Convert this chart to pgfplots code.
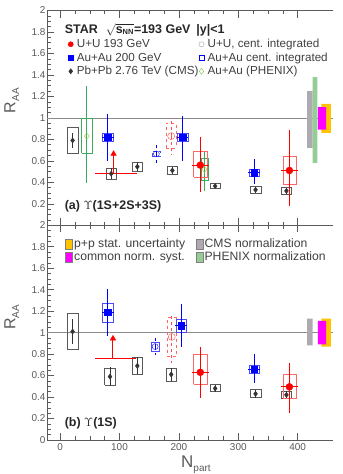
\documentclass[border=0pt]{standalone}
\usepackage{pgfplots}
\pgfplotsset{compat=1.18}
\usepackage{fontspec}
\setmainfont{Liberation Sans}
\definecolor{uured}{RGB}{255,0,0}
\definecolor{aublue}{RGB}{0,0,255}
\definecolor{phgreen}{RGB}{60,170,90}
\definecolor{phnorm}{RGB}{150,205,150}
\definecolor{cmsnorm}{RGB}{175,170,178}
\definecolor{ppor}{RGB}{255,195,0}
\definecolor{magen}{RGB}{255,0,255}
\definecolor{axgray}{RGB}{90,90,90}
\pgfplotsset{
  myax/.style={
    scale only axis, width=286bp, height=214.5bp,
    xmin=-22, xmax=460, ymin=0, ymax=2,
    axis x line*=box, axis y line*=left,
    axis line style={axgray, line width=0.6pt},
    every tick/.style={axgray, line width=0.5pt},
    major tick length=7bp, minor tick length=3.5bp,
    xtick={0,100,200,300,400}, minor x tick num=3,
    ytick={0,0.2,0.4,0.6,0.8,1,1.2,1.4,1.6,1.8,2}, minor y tick num=3,
    tick label style={font=\fontsize{10}{12}\selectfont, axgray},
    yticklabel style={xshift=2bp},
    /pgf/number format/assume math mode=true,
    clip=false,
  },
  cmsbox/.style={draw=black!65, line width=0.6pt, forget plot},
  redbox/.style={draw=uured!60, line width=0.6pt, forget plot},
  bluebox/.style={draw=aublue!70, line width=0.6pt, forget plot},
  greenbox/.style={draw=phgreen, line width=0.7pt, forget plot},
  ebar/.style={forget plot, only marks, error bars/y dir=both, error bars/y explicit, error bars/x dir=both, error bars/x explicit, error bars/error mark=none},
}
\begin{document}
\begin{tikzpicture}
\path[use as bounding box] (-47bp,-34bp) rectangle (295bp,439.5bp);
% ================= TOP PANEL =================
\begin{axis}[myax, at={(0,214.5bp)}, anchor=south west,
  xticklabels={}, yticklabels={,0.2,0.4,0.6,0.8,1,1.2,1.4,1.6,1.8,2},
  ylabel={R\raisebox{-0.45ex}{\fontsize{10}{11}\selectfont AA}},
  ylabel style={font=\fontsize{16}{18}\selectfont, axgray, at={(axis description cs:-0.085,0.58)}},
  legend columns=2,
  legend image code/.code={\draw[#1] plot coordinates {(4bp,0bp)};},
  legend style={at={(axis description cs:0.073,0.875)}, anchor=north west, draw=none, fill=none,
    font=\fontsize{11.7}{13}\selectfont, text=black!75, row sep=0pt, inner sep=0pt,
    nodes={inner sep=0.5pt, text height=9.5bp, text depth=3bp},
    /tikz/every even column/.append style={column sep=0bp},
    /tikz/every odd column/.append style={column sep=3bp}},
  legend cell align=left]
\addplot[axgray!70, line width=0.7pt, forget plot] coordinates {(-22,1) (460,1)};
% normalization bars
\addplot[fill=cmsnorm, draw=none, forget plot] coordinates {(416,0.72) (425,0.72) (425,1.25) (416,1.25) (416,0.72)};
\addplot[fill=phnorm, draw=none, forget plot] coordinates {(425,0.58) (433,0.58) (433,1.38) (425,1.38) (425,0.58)};
\addplot[fill=ppor, draw=none, forget plot] coordinates {(440,0.86) (456,0.86) (456,1.13) (440,1.13) (440,0.86)};
\addplot[fill=magen, draw=none, forget plot] coordinates {(434,0.89) (448,0.89) (448,1.10) (434,1.10) (434,0.89)};
% legend images
\addlegendimage{only marks, mark=*, mark size=2.6pt, uured}
\addlegendentry{U+U 193 GeV}
\addlegendimage{only marks, mark=o, mark size=2.6pt, black!35}
\addlegendentry{U+U, cent. integrated}
\addlegendimage{only marks, mark=square*, mark size=2.6pt, aublue}
\addlegendentry{Au+Au 200 GeV}
\addlegendimage{only marks, mark=square, mark size=2.6pt, aublue}
\addlegendentry{Au+Au cent. integrated}
\addlegendimage{only marks, mark=diamond*, mark size=2.6pt, black!80}
\addlegendentry{Pb+Pb 2.76 TeV (CMS)}
\addlegendimage{only marks, mark=diamond, mark size=3pt, phgreen!70!yellow}
\addlegendentry{Au+Au (PHENIX)}
% CMS boxes
\addplot[cmsbox] coordinates {(12,0.67) (30,0.67) (30,0.91) (12,0.91) (12,0.67)};
\addplot[cmsbox] coordinates {(77,0.43) (95,0.43) (95,0.53) (77,0.53) (77,0.43)};
\addplot[cmsbox] coordinates {(121,0.50) (139,0.50) (139,0.59) (121,0.59) (121,0.50)};
\addplot[cmsbox] coordinates {(180,0.47) (198,0.47) (198,0.55) (180,0.55) (180,0.47)};
\addplot[cmsbox] coordinates {(252,0.34) (270,0.34) (270,0.39) (252,0.39) (252,0.34)};
\addplot[cmsbox] coordinates {(320,0.30) (338,0.30) (338,0.36) (320,0.36) (320,0.30)};
\addplot[cmsbox] coordinates {(372,0.29) (390,0.29) (390,0.35) (372,0.35) (372,0.29)};
\addplot[ebar, black!80, mark=diamond*, mark size=2.6pt, error bars/error bar style={black!80, line width=0.6pt}] coordinates {
 (21,0.79) +- (0,0.07) (86,0.48) +- (0,0.05) (130,0.545) +- (0,0.04) (189,0.51) +- (0,0.03)
 (261,0.365) +- (0,0.02) (329,0.33) +- (0,0.03) (381,0.32) +- (0,0.03)};
% PHENIX
\addplot[greenbox] coordinates {(36,0.67) (54,0.67) (54,1.00) (36,1.00) (36,0.67)};
\addplot[greenbox] coordinates {(237,0.42) (249,0.42) (249,0.62) (237,0.62) (237,0.42)};
\addplot[ebar, phgreen, mark=diamond, mark size=3.2pt, mark options={fill=white, draw=phgreen!60!yellow}, error bars/error bar style={phgreen, line width=1pt}] coordinates {
 (45,0.83) += (0,0.47) -= (0,0.44) (243,0.52) += (0,0.17) -= (0,0.20)};
% cent. integrated
\addplot[bluebox, dashed] coordinates {(155,0.64) (169,0.64) (169,0.69) (155,0.69) (155,0.64)};
\addplot[ebar, aublue, mark=o, mark size=3pt, mark options={solid}, error bars/error bar style={aublue, line width=0.8pt, dashed}] coordinates {
 (162,0.665) += (0,0.10) -= (0,0.085)};
\addplot[redbox, dashed] coordinates {(179,0.72) (195,0.72) (195,0.95) (179,0.95) (179,0.72)};
\addplot[ebar, uured!70, mark=o, mark size=3.5pt, mark options={solid}, error bars/error bar style={uured!70, line width=0.8pt, dashed}] coordinates {
 (187,0.83) += (0,0.17) -= (0,0.18)};
% Au+Au STAR
\addplot[bluebox] coordinates {(71,0.78) (89,0.78) (89,0.86) (71,0.86) (71,0.78)};
\addplot[bluebox] coordinates {(197,0.78) (215,0.78) (215,0.86) (197,0.86) (197,0.78)};
\addplot[bluebox] coordinates {(318,0.46) (336,0.46) (336,0.52) (318,0.52) (318,0.46)};
\addplot[ebar, aublue, mark=square*, mark size=3.3pt, error bars/error bar style={aublue, line width=1pt}] coordinates {
 (80,0.82) +- (10,0.22) (206,0.82) += (10,0.20) -= (10,0.22) (327,0.49) += (10,0.13) -= (10,0.105)};
% U+U STAR
\addplot[uured, line width=1pt, forget plot] coordinates {(59,0.48) (130,0.48)};
\addplot[uured, line width=1pt, forget plot] coordinates {(90,0.48) (90,0.65)};
\addplot[only marks, uured, mark=triangle*, mark size=3.2pt, forget plot] coordinates {(90,0.665)};
\addplot[redbox] coordinates {(225,0.45) (247,0.45) (247,0.69) (225,0.69) (225,0.45)};
\addplot[redbox] coordinates {(375,0.38) (397,0.38) (397,0.64) (375,0.64) (375,0.38)};
\addplot[ebar, uured, mark=*, mark size=3.5pt, error bars/error bar style={uured, line width=1pt}] coordinates {
 (236,0.56) += (14,0.26) -= (14,0.25) (386,0.51) += (14,0.38) -= (14,0.33)};
% texts
\node[anchor=west, font=\bfseries\fontsize{12.5}{14}\selectfont, text=black!85] at (axis cs:2,1.82)
 {STAR\hspace{8pt}$\sqrt{\mbox{s$_{\mbox{\fontsize{7.5}{8}\selectfont NN}}$}}$=193 GeV\hspace{6pt}|y|<1};
\node[anchor=west, font=\bfseries\fontsize{12.5}{14}\selectfont, text=black!85] at (axis cs:2,0.18)
 {(a) $\Upsilon$(1S+2S+3S)};
\end{axis}
% ================= BOTTOM PANEL =================
\begin{axis}[myax, at={(0,0)}, anchor=south west,
  ylabel={R\raisebox{-0.45ex}{\fontsize{10}{11}\selectfont AA}},
  ylabel style={font=\fontsize{16}{18}\selectfont, axgray, at={(axis description cs:-0.085,0.57)}},
  xlabel={N\raisebox{-0.45ex}{\fontsize{10}{11}\selectfont part}},
  xlabel style={font=\fontsize{17}{19}\selectfont, axgray, anchor=north, inner sep=0pt, at={(axis description cs:0.52,-0.072)}},
  legend columns=2,
  legend style={at={(axis description cs:0.063,0.945)}, anchor=north west, draw=none, fill=none,
    font=\fontsize{12.2}{13}\selectfont, text=black!75, row sep=0pt, inner sep=0pt,
    nodes={inner sep=1.5pt},
    /tikz/every even column/.append style={column sep=9bp},
    /tikz/every odd column/.append style={column sep=0bp}},
  legend cell align=left,
  legend image code/.code={\draw[#1] (0bp,-5bp) rectangle (7bp,5bp);}]
\addplot[axgray!70, line width=0.7pt, forget plot] coordinates {(-22,1) (460,1)};
\addplot[fill=cmsnorm, draw=none, forget plot] coordinates {(416,0.88) (425,0.88) (425,1.13) (416,1.13) (416,0.88)};
\addplot[fill=ppor, draw=none, forget plot] coordinates {(440,0.87) (456,0.87) (456,1.13) (440,1.13) (440,0.87)};
\addplot[fill=magen, draw=none, forget plot] coordinates {(434,0.89) (448,0.89) (448,1.11) (434,1.11) (434,0.89)};
\addlegendimage{fill=ppor, draw=black!50}
\addlegendentry{p+p stat. uncertainty}
\addlegendimage{fill=cmsnorm, draw=black!50}
\addlegendentry{CMS normalization}
\addlegendimage{fill=magen, draw=black!50}
\addlegendentry{common norm. syst.}
\addlegendimage{fill=phnorm, draw=black!50}
\addlegendentry{PHENIX normalization}
% CMS
\addplot[cmsbox] coordinates {(12,0.84) (30,0.84) (30,1.18) (12,1.18) (12,0.84)};
\addplot[cmsbox] coordinates {(75,0.51) (93,0.51) (93,0.67) (75,0.67) (75,0.51)};
\addplot[cmsbox] coordinates {(121,0.61) (139,0.61) (139,0.77) (121,0.77) (121,0.61)};
\addplot[cmsbox] coordinates {(178,0.55) (196,0.55) (196,0.67) (178,0.67) (178,0.55)};
\addplot[cmsbox] coordinates {(252,0.45) (270,0.45) (270,0.52) (252,0.52) (252,0.45)};
\addplot[cmsbox] coordinates {(320,0.40) (338,0.40) (338,0.47) (320,0.47) (320,0.40)};
\addplot[cmsbox] coordinates {(372,0.39) (390,0.39) (390,0.45) (372,0.45) (372,0.39)};
\addplot[ebar, black!80, mark=diamond*, mark size=2.6pt, error bars/error bar style={black!80, line width=0.6pt}] coordinates {
 (21,1.01) +- (0,0.12) (84,0.59) +- (0,0.09) (130,0.69) +- (0,0.08) (187,0.61) +- (0,0.06)
 (261,0.48) +- (0,0.03) (329,0.43) +- (0,0.04) (381,0.42) +- (0,0.04)};
% cent. integrated
\addplot[bluebox] coordinates {(153,0.83) (167,0.83) (167,0.91) (153,0.91) (153,0.83)};
\addplot[ebar, aublue, mark=o, mark size=3pt, mark options={solid}, error bars/error bar style={aublue, line width=0.8pt, dashed}] coordinates {
 (160,0.87) += (0,0.10) -= (0,0.08)};
\addplot[redbox, dashed] coordinates {(180,0.78) (196,0.78) (196,1.14) (180,1.14) (180,0.78)};
\addplot[ebar, uured!70, mark=o, mark size=3.5pt, mark options={solid}, error bars/error bar style={uured!70, line width=0.8pt, dashed}] coordinates {
 (188,0.96) += (0,0.19) -= (0,0.24)};
% Au+Au STAR
\addplot[bluebox] coordinates {(71,1.10) (89,1.10) (89,1.27) (71,1.27) (71,1.10)};
\addplot[bluebox] coordinates {(195,1.00) (213,1.00) (213,1.12) (195,1.12) (195,1.00)};
\addplot[bluebox] coordinates {(318,0.62) (336,0.62) (336,0.70) (318,0.70) (318,0.62)};
\addplot[ebar, aublue, mark=square*, mark size=3.3pt, error bars/error bar style={aublue, line width=1pt}] coordinates {
 (80,1.19) +- (10,0.22) (204,1.065) += (10,0.205) -= (10,0.195) (327,0.66) += (10,0.14) -= (10,0.13)};
% U+U STAR
\addplot[uured, line width=1pt, forget plot] coordinates {(59,0.755) (128,0.755)};
\addplot[uured, line width=1pt, forget plot] coordinates {(89,0.755) (89,0.93)};
\addplot[only marks, uured, mark=triangle*, mark size=3.2pt, forget plot] coordinates {(89,0.945)};
\addplot[redbox] coordinates {(225,0.52) (247,0.52) (247,0.80) (225,0.80) (225,0.52)};
\addplot[redbox] coordinates {(375,0.39) (397,0.39) (397,0.61) (375,0.61) (375,0.39)};
\addplot[ebar, uured, mark=*, mark size=3.5pt, error bars/error bar style={uured, line width=1pt}] coordinates {
 (236,0.63) +- (14,0.24) (386,0.495) += (14,0.225) -= (14,0.245)};
\node[anchor=west, font=\bfseries\fontsize{12.5}{14}\selectfont, text=black!85] at (axis cs:2,0.16)
 {(b) $\Upsilon$(1S)};
\end{axis}
\end{tikzpicture}
\end{document}
